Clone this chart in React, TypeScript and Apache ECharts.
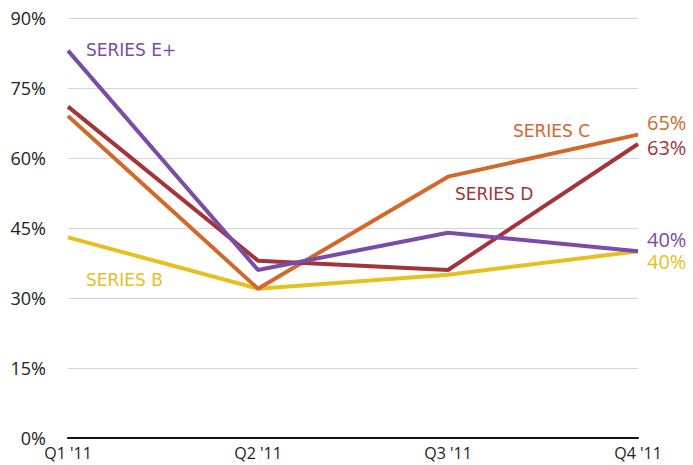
import React, { useEffect, useRef } from "react";
import * as echarts from "echarts";

const categories = ["Q1 '11", "Q2 '11", "Q3 '11", "Q4 '11"];
const seriesE = [83, 36, 44, 40];
const seriesD = [71, 38, 36, 63];
const seriesC = [69, 32, 56, 65];
const seriesB = [43, 32, 35, 40];
const yTicks = { min: 0, max: 90, interval: 15 };

const PURPLE = "#7a4ca6";
const RED = "#a3343a";
const ORANGE = "#d0692b";
const YELLOW = "#e6c020";
const FONT = "Open Sans";

function mk(name: string, data: number[], color: string, offY: number) {
  return {
    name,
    type: "line",
    data,
    symbol: "none",
    lineStyle: { color, width: 4 },
    itemStyle: { color },
    z: 2,
    endLabel: {
      show: true,
      formatter: "{c}%",
      color,
      fontFamily: FONT,
      fontSize: 20,
      lineHeight: 18,
      distance: 9,
      offset: [0, offY],
    },
  };
}

export default function App() {
  const ref = useRef<HTMLDivElement>(null);
  useEffect(() => {
    const chart = echarts.init(ref.current!, null, { renderer: "svg" });
    const labelStyle = (text: string, x: number, y: number, color: string) => ({
      type: "text",
      left: x,
      top: y,
      style: { text, fill: color, font: `17px "DejaVu Sans"` },
    });
    chart.setOption({
      animation: false,
      grid: { left: 68, right: 55, top: 18, bottom: 27 },
      xAxis: {
        type: "category",
        data: categories,
        boundaryGap: false,
        axisLine: { lineStyle: { color: "#111", width: 2 } },
        axisTick: { show: false },
        axisLabel: { color: "#222", fontFamily: FONT, fontSize: 16, margin: 7 },
      },
      yAxis: {
        type: "value",
        min: yTicks.min,
        max: yTicks.max,
        interval: yTicks.interval,
        axisLine: { show: false },
        axisTick: { show: false },
        splitLine: { lineStyle: { color: "#d4d4d4", width: 1 } },
        axisLabel: { formatter: "{value}%", color: "#222", fontFamily: FONT, fontSize: 18, margin: 22 },
      },
      series: [
        mk("SERIES B", seriesB, YELLOW, 10),
        mk("SERIES C", seriesC, ORANGE, -12),
        mk("SERIES D", seriesD, RED, 3),
        mk("SERIES E+", seriesE, PURPLE, -12),
      ],
      graphic: [
        labelStyle("SERIES E+", 86, 41, PURPLE),
        labelStyle("SERIES C", 513, 122, ORANGE),
        labelStyle("SERIES D", 455, 185, RED),
        labelStyle("SERIES B", 86, 271, YELLOW),
      ],
    });
    return () => chart.dispose();
  }, []);
  return (
    <div
      ref={ref}
      style={{ position: "fixed", left: 0, top: 0, width: 693, height: 465, background: "#fff" }}
    />
  );
}
